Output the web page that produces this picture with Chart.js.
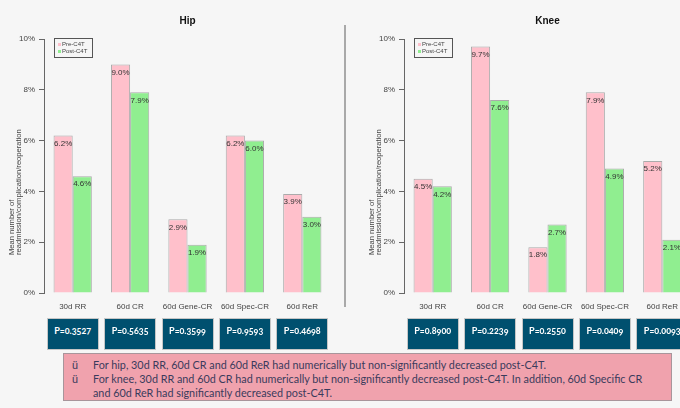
<!DOCTYPE html>
<html>
<head>
<meta charset="utf-8">
<script src="https://cdn.jsdelivr.net/npm/chart.js@4.4.0/dist/chart.umd.min.js"></script>
<style>
  html, body { margin: 0; padding: 0; }
  body {
    width: 680px; height: 408px; overflow: hidden; position: relative;
    background: #f6f6f6; font-family: "Liberation Sans", Arial, sans-serif;
  }
  .plot { position: absolute; top: 0; width: 331px; height: 320px; }
  #hipWrap { left: 0; }
  #kneeWrap { left: 360px; }
  .divider { position: absolute; left: 344px; top: 25px; width: 2px; height: 282px; background: #a9a9a9; }
  .pbox {
    position: absolute; top: 318px; width: 52px; height: 32px; box-sizing: border-box;
    background: #00506f; border: 1px solid #c6c6c6; color: #fff;
    font: bold 9px Lato, sans-serif; font-variant-numeric: oldstyle-nums; text-align: center;
    padding-top: 6px;
  }
  .note {
    position: absolute; left: 63px; top: 353px; width: 609px; height: 48px; box-sizing: border-box;
    background: #f0a2ad; border: 1px solid #a8959b; color: #3a3b5c;
    font: 10.8px Lato, sans-serif; padding: 4px 0 0 8px;
  }
  .note div { line-height: 14px; white-space: nowrap; }
  .bul { display: inline-block; width: 21px; }
</style>
</head>
<body>
<div class="plot" id="hipWrap"><canvas id="hipChart"></canvas></div>
<div class="divider"></div>
<div class="plot" id="kneeWrap"><canvas id="kneeChart"></canvas></div>
<div class="note">
  <div><span class="bul">ü</span>For hip, 30d RR, 60d CR and 60d ReR had numerically but non-significantly decreased post-C4T.</div>
  <div><span class="bul">ü</span>For knee, 30d RR and 60d CR had numerically but non-significantly decreased post-C4T. In addition, 60d Specific CR</div>
  <div><span class="bul"></span>and 60d ReR had significantly decreased post-C4T.</div>
</div>
<script>
const categories = ['30d RR', '60d CR', '60d Gene-CR', '60d Spec-CR', '60d ReR'];
const hipPre = [6.2, 9.0, 2.9, 6.2, 3.9];
const hipPost = [4.6, 7.9, 1.9, 6.0, 3.0];
const kneePre = [4.5, 9.7, 1.8, 7.9, 5.2];
const kneePost = [4.2, 7.6, 2.7, 4.9, 2.1];
const yTicks = [0, 2, 4, 6, 8, 10];
const hipP = ['0.3527', '0.5635', '0.3599', '0.9593', '0.4698'];
const kneeP = ['0.8900', '0.2239', '0.2550', '0.0409', '0.0093'];
const seriesNames = ['Pre-C4T', 'Post-C4T'];
const yTitle = ['Mean number of', 'readmission/complication/reoperation'];

const PINK = '#ffc0cb';
const GREEN = '#90ee90';

Chart.defaults.font.family = '"Liberation Sans", Arial, sans-serif';
Chart.defaults.color = '#444';

// title, inset legend, rotated axis title and value labels, drawn the way R's barplot does
const decor = {
  id: 'decor',
  afterDatasetsDraw(chart) {
    const ctx = chart.ctx;
    ctx.save();
    ctx.font = '8px "Liberation Sans", Arial';
    ctx.fillStyle = '#333';
    ctx.textAlign = 'center';
    ctx.textBaseline = 'middle';
    chart.data.datasets.forEach((ds, i) => {
      chart.getDatasetMeta(i).data.forEach((bar, j) => {
        ctx.fillText(ds.data[j].toFixed(1) + '%', bar.x, bar.y + 8);
      });
    });
    ctx.restore();
  },
  afterDraw(chart, args, opts) {
    const ctx = chart.ctx;
    const a = chart.chartArea;
    ctx.save();
    ctx.fillStyle = '#111';
    ctx.font = 'bold 10px "Liberation Sans", Arial';
    ctx.textAlign = 'center';
    ctx.textBaseline = 'middle';
    ctx.fillText(opts.title, (a.left + a.right) / 2, 21);

    // legend box
    const lx = a.left + 10, ly = 38;
    ctx.strokeStyle = '#555';
    ctx.lineWidth = 1;
    ctx.strokeRect(lx + 0.5, ly + 0.5, 38, 19);
    ctx.font = '6px "Liberation Sans", Arial';
    ctx.textAlign = 'left';
    chart.data.datasets.forEach((ds, i) => {
      ctx.fillStyle = ds.backgroundColor;
      ctx.fillRect(lx + 4, ly + 5 + i * 7, 3, 3);
      ctx.fillStyle = '#444';
      ctx.fillText(ds.label, lx + 8, ly + 6.5 + i * 7);
    });

    // y axis title
    ctx.translate(12, 255);
    ctx.rotate(-Math.PI / 2);
    ctx.font = '7.6px "Liberation Sans", Arial';
    ctx.fillStyle = '#444';
    ctx.fillText(yTitle[0], 0, 0);
    ctx.fillText(yTitle[1], 0, 7);
    ctx.restore();
  }
};

function makeChart(id, title, pre, post) {
  return new Chart(document.getElementById(id), {
    type: 'bar',
    data: {
      labels: categories,
      datasets: [
        { label: seriesNames[0], data: pre, backgroundColor: PINK },
        { label: seriesNames[1], data: post, backgroundColor: GREEN }
      ]
    },
    options: {
      responsive: true,
      maintainAspectRatio: false,
      animation: false,
      layout: { padding: { top: 39, right: 0, bottom: 0, left: 0 } },
      datasets: {
        bar: {
          categoryPercentage: 2 / 3,
          barPercentage: 1,
          borderColor: 'rgba(140,140,140,0.7)',
          borderWidth: 1
        }
      },
      scales: {
        x: {
          grid: { display: false },
          border: { display: false },
          ticks: { font: { size: 8 }, color: '#444', padding: 1, maxRotation: 0, autoSkip: false },
          afterFit(s) { s.height = 27; }
        },
        y: {
          min: 0, max: 10,
          afterBuildTicks(s) { s.ticks = yTicks.map(v => ({ value: v })); },
          grid: { drawOnChartArea: false, drawTicks: true, tickLength: 5, color: '#666' },
          border: { display: true, color: '#666' },
          ticks: { font: { size: 8 }, color: '#444', padding: 4, callback: v => v + '%' },
          afterFit(s) { s.width = 44; }
        }
      },
      plugins: {
        legend: { display: false },
        tooltip: { enabled: false },
        decor: { title: title }
      }
    },
    plugins: [decor]
  });
}

const hipChart = makeChart('hipChart', 'Hip', hipPre, hipPost);
const kneeChart = makeChart('kneeChart', 'Knee', kneePre, kneePost);

// p-value boxes under each category
function addPBoxes(chart, offset, values) {
  values.forEach((p, i) => {
    const box = document.createElement('div');
    box.className = 'pbox';
    box.textContent = 'P=' + p;
    box.style.left = (offset + chart.scales.x.getPixelForValue(i) - 26) + 'px';
    document.body.appendChild(box);
  });
}
addPBoxes(hipChart, 0, hipP);
addPBoxes(kneeChart, 360, kneeP);
</script>
</body>
</html>
